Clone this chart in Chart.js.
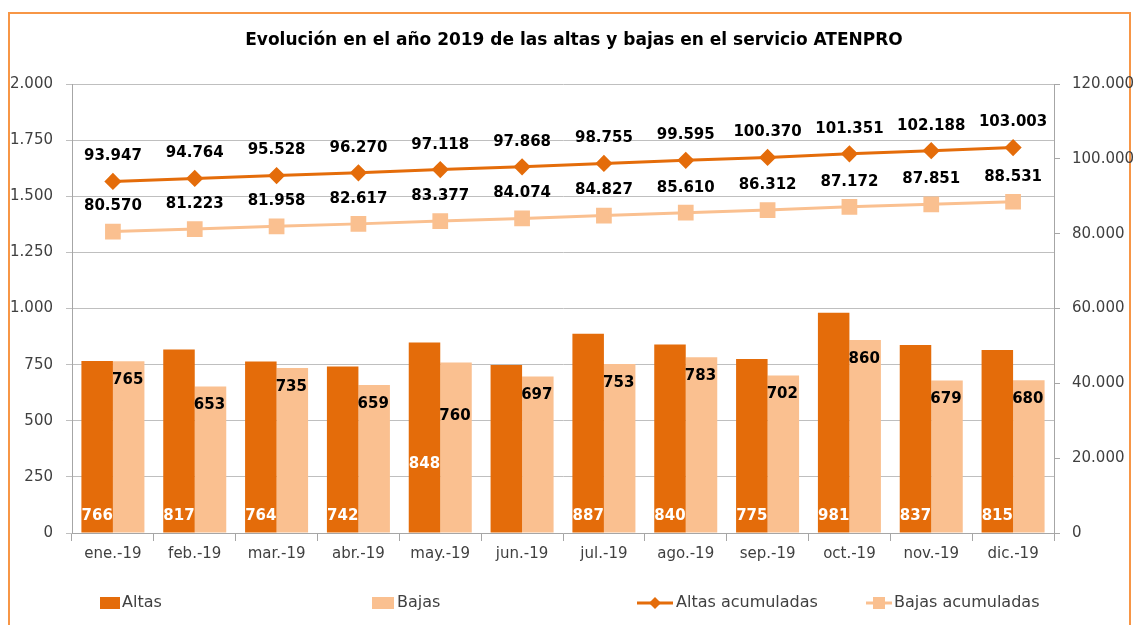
<!DOCTYPE html>
<html><head><meta charset="utf-8">
<script src="https://cdn.jsdelivr.net/npm/chart.js@4.4.1/dist/chart.umd.min.js"></script>
<style>html,body{margin:0;padding:0;background:#fff;}#wrap{width:1134px;height:625px;position:relative;}</style>
</head><body><div id="wrap"><canvas id="c" width="1134" height="625"></canvas></div>
<script>
const categories = ['ene.-19','feb.-19','mar.-19','abr.-19','may.-19','jun.-19','jul.-19','ago.-19','sep.-19','oct.-19','nov.-19','dic.-19'];
const altas = [766,817,764,742,848,748,887,840,775,981,837,815];
const altasLabels = ['766','817','764','742','848','','887','840','775','981','837','815'];
const bajas = [765,653,735,659,760,697,753,783,702,860,679,680];
const altasAcum = [93947,94764,95528,96270,97118,97868,98755,99595,100370,101351,102188,103003];
const bajasAcum = [80570,81223,81958,82617,83377,84074,84827,85610,86312,87172,87851,88531];
const leftTicks = [0,250,500,750,1000,1250,1500,1750,2000];
const rightTicks = [0,20000,40000,60000,80000,100000,120000];

const C_DARK = '#E46C0A', C_LIGHT = '#FAC090', TXT = '#404040';
const FONT = '"DejaVu Sans", sans-serif';
const fmt = v => String(v).replace(/\B(?=(\d{3})+(?!\d))/g, '.');

const decor = {
  id: 'decor',
  beforeDraw(chart) {
    const ctx = chart.ctx;
    ctx.save();
    ctx.strokeStyle = '#F79646'; ctx.lineWidth = 2;
    ctx.strokeRect(9, 13, 1121, 700);
    ctx.fillStyle = '#000';
    ctx.font = 'bold 17px ' + FONT;
    ctx.textAlign = 'center'; ctx.textBaseline = 'middle';
    ctx.fillText('Evolución en el año 2019 de las altas y bajas en el servicio ATENPRO', 574, 41);
    // legend
    const ly = 603;
    ctx.font = '16px ' + FONT; ctx.textAlign = 'left'; ctx.fillStyle = TXT;
    ctx.fillStyle = C_DARK; ctx.fillRect(100, ly - 6, 20, 12);
    ctx.fillStyle = TXT; ctx.fillText('Altas', 122, ly);
    ctx.fillStyle = C_LIGHT; ctx.fillRect(372, ly - 6, 22, 12);
    ctx.fillStyle = TXT; ctx.fillText('Bajas', 397, ly);
    ctx.strokeStyle = C_DARK; ctx.lineWidth = 3;
    ctx.beginPath(); ctx.moveTo(637, ly); ctx.lineTo(673, ly); ctx.stroke();
    ctx.fillStyle = C_DARK; ctx.beginPath();
    ctx.moveTo(655, ly - 6); ctx.lineTo(661, ly); ctx.lineTo(655, ly + 6); ctx.lineTo(649, ly); ctx.closePath(); ctx.fill();
    ctx.fillStyle = TXT; ctx.fillText('Altas acumuladas', 676, ly);
    ctx.strokeStyle = C_LIGHT;
    ctx.beginPath(); ctx.moveTo(866, ly); ctx.lineTo(892, ly); ctx.stroke();
    ctx.fillStyle = C_LIGHT; ctx.fillRect(873, ly - 6, 12, 12);
    ctx.fillStyle = TXT; ctx.fillText('Bajas acumuladas', 894, ly);
    ctx.restore();
  },
  afterDatasetsDraw(chart) {
    const ctx = chart.ctx;
    ctx.save();
    ctx.font = 'bold 15px ' + FONT;
    ctx.textAlign = 'center'; ctx.textBaseline = 'middle';
    const base = chart.scales.y.getPixelForValue(0);
    chart.getDatasetMeta(0).data.forEach((el, i) => {
      const t = altasLabels[i]; if (!t) return;
      let y = base - 17;
      if (i === 4) y = base - 69;
      ctx.fillStyle = '#fff'; ctx.fillText(t, el.x, y);
    });
    chart.getDatasetMeta(1).data.forEach((el, i) => {
      let y = el.y + 19;
      if (i === 4) y = el.y + 54;
      ctx.fillStyle = '#000'; ctx.fillText(fmt(bajas[i]), el.x - 1, y);
    });
    [[2, altasAcum], [3, bajasAcum]].forEach(([d, arr]) => {
      chart.getDatasetMeta(d).data.forEach((el, i) => {
        ctx.fillStyle = '#000'; ctx.fillText(fmt(arr[i]), el.x, el.y - 25);
      });
    });
    ctx.restore();
  }
};

new Chart(document.getElementById('c'), {
  data: {
    labels: categories,
    datasets: [
      { type: 'bar', label: 'Altas', data: altas, backgroundColor: C_DARK, yAxisID: 'y', order: 3, categoryPercentage: 0.77, barPercentage: 1 },
      { type: 'bar', label: 'Bajas', data: bajas, backgroundColor: C_LIGHT, yAxisID: 'y', order: 4, categoryPercentage: 0.77, barPercentage: 1 },
      { type: 'line', label: 'Altas acumuladas', data: altasAcum, borderColor: C_DARK, backgroundColor: C_DARK, borderWidth: 3, pointStyle: 'rectRot', pointRadius: 6.5, pointHoverRadius: 6.5, yAxisID: 'y1', order: 1 },
      { type: 'line', label: 'Bajas acumuladas', data: bajasAcum, borderColor: C_LIGHT, backgroundColor: C_LIGHT, borderWidth: 3, pointStyle: 'rect', pointRadius: 9, pointHoverRadius: 9, yAxisID: 'y1', order: 2 }
    ]
  },
  options: {
    responsive: false, animation: false, devicePixelRatio: 1,
    layout: { padding: { left: 0, right: 0, top: 84, bottom: 0 } },
    plugins: { legend: { display: false }, title: { display: false }, tooltip: { enabled: false } },
    scales: {
      x: {
        offset: true,
        grid: { offset: true, drawOnChartArea: false, drawTicks: true, tickLength: 8, color: '#A6A6A6' },
        border: { display: true, color: '#A6A6A6' },
        ticks: { color: TXT, font: { family: FONT, size: 15 }, padding: 4, maxRotation: 0 },
        afterFit: s => { s.height = 92; }
      },
      y: {
        position: 'left', min: 0, max: 2000,
        afterBuildTicks: s => { s.ticks = leftTicks.map(v => ({ value: v })); },
        grid: { color: '#BFBFBF', tickLength: 6, lineWidth: 1 },
        border: { display: true, color: '#A6A6A6' },
        ticks: { color: TXT, font: { family: FONT, size: 15 }, padding: 13, callback: v => fmt(v) },
        afterFit: s => { s.width = 72; }
      },
      y1: {
        position: 'right', min: 0, max: 120000,
        afterBuildTicks: s => { s.ticks = rightTicks.map(v => ({ value: v })); },
        grid: { drawOnChartArea: false, tickLength: 6, color: '#A6A6A6' },
        border: { display: true, color: '#A6A6A6' },
        ticks: { color: TXT, font: { family: FONT, size: 15 }, padding: 12, callback: v => fmt(v) },
        afterFit: s => { s.width = 80; }
      }
    }
  },
  plugins: [decor]
});
</script>
</body></html>
